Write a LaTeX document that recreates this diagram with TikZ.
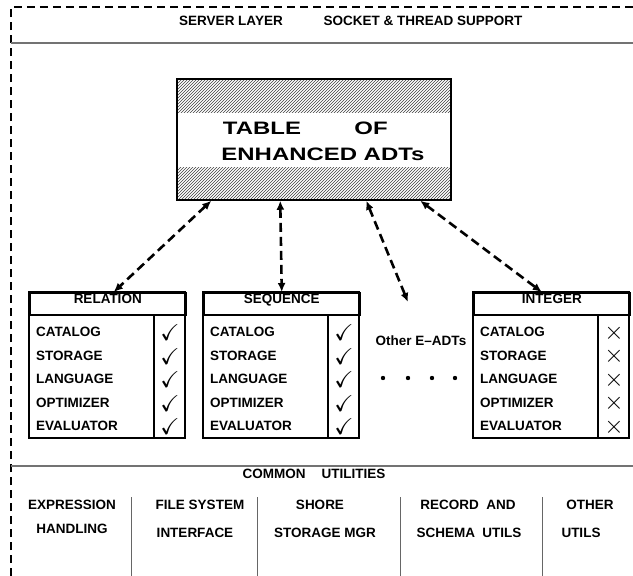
\documentclass[tikz,border=0pt]{standalone}
\usepackage{fontspec}
\setmainfont{Liberation Sans}
\usepackage{amssymb}
\usepackage{graphicx}
\usetikzlibrary{arrows.meta,patterns}

\tikzset{
  txt/.style={font=\fontsize{13.5}{16}\selectfont\bfseries, inner sep=0pt},
  bigtxt/.style={font=\fontsize{18}{20}\selectfont\bfseries, inner sep=0pt},
  rule/.style={draw=black!55, line width=1.2pt},
  boxline/.style={line width=1.5pt},
  adtlink/.style={{Latex[length=9pt,width=8pt]}-{Latex[length=9pt,width=8pt]},
    dash pattern=on 9pt off 5pt, line width=2.6pt},
}
\newcommand{\yes}{\fontsize{23}{23}\selectfont$\checkmark$}
\newcommand{\nope}{\fontsize{27}{27}\selectfont$\times$}

\begin{document}
\begin{tikzpicture}[x=1pt,y=-1pt]
  \useasboundingbox (0,0) rectangle (633,576);
  % frame (only top and left side show)
  \draw[dash pattern=on 8pt off 5pt, line width=1.5pt] (11,576) -- (11,7) -- (633,7);
  \node[txt] (srv) at (231,21) {SERVER LAYER};
  \node[txt] (sock) at (423,21) {SOCKET \& THREAD SUPPORT};
  \draw[rule] (11,43) -- (633,43);

  % the table in the middle
  \node[draw, boxline, minimum width=274pt, minimum height=121pt, inner sep=0pt,
    path picture={
      \fill[pattern=north east lines, pattern color=black!75] (path picture bounding box.north west)
        rectangle ([yshift=-33pt]path picture bounding box.north east);
      \fill[pattern=north east lines, pattern color=black!75] ([yshift=33pt]path picture bounding box.south west)
        rectangle (path picture bounding box.south east);
    }] (tab) at (314,139.5) {};
  \node[bigtxt] (tbl) at (262,128.5) {\scalebox{1.33}[1]{TABLE}};
  \node[bigtxt] (of) at (371,128.5) {\scalebox{1.33}[1]{OF}};
  \node[bigtxt] (enh) at (323,154.5) {\scalebox{1.33}[1]{ENHANCED ADTs}};

  % the E-ADT boxes
  \foreach \bx/\bname/\btitle/\bmark in {29/rel/RELATION/\yes, 203/seq/SEQUENCE/\yes, 473/int/INTEGER/\nope}{
    \draw[boxline] (\bx,292) rectangle (\bx+156,438);
    \node[txt, draw, boxline, text depth=10pt, minimum width=156pt, minimum height=22pt,
      anchor=north west] (\bname) at (\bx,292) {\btitle};
    \draw[boxline] (\bx+125,314) -- (\bx+125,438);
    \foreach \lbl [count=\r] in {CATALOG,STORAGE,LANGUAGE,OPTIMIZER,EVALUATOR}{
      \node[txt, anchor=west] (\bname-\r) at (\bx+7,308.5+23.5*\r) {\lbl};
      \node[inner sep=0pt] (\bname-m\r) at (\bx+141,309.5+23.5*\r) {\bmark};
    }
  }

  \node[txt] (oth) at (421,341) {Other E--ADTs};
  \coordinate (othtip) at (408,302);
  \foreach \dx in {383,408,432,455}
    \fill (\dx,378) circle (2.2pt);

  % links to the table
  \draw[adtlink] ([xshift=35pt]tab.south west) -- ([xshift=6pt]rel.north);
  \draw[adtlink] ([xshift=104pt]tab.south west) -- (seq.north);
  \draw[adtlink] ([xshift=190pt]tab.south west) -- (othtip);
  \draw[adtlink] ([xshift=244pt]tab.south west) -- ([xshift=-10pt]int.north);

  % common utilities
  \draw[rule] (11,466) -- (633,466);
  \node[txt] (cu) at (314,474) {COMMON\hspace{1.2em}UTILITIES};
  \foreach \dx in {131,257,400,542}
    \draw[draw=black!60, line width=1pt] (\dx,497) -- (\dx,576);
  \foreach \ux/\uy/\uname/\utext in {72/505/ex1/EXPRESSION, 72/529/ex2/HANDLING,
      200/505/fs1/FILE SYSTEM, 195/533/fs2/INTERFACE,
      320/505/sh1/SHORE, 325/533/sh2/STORAGE MGR,
      468/505/rec1/RECORD\ \ AND, 469/533/rec2/SCHEMA\ \ UTILS,
      590/505/ot1/OTHER, 581/533/ot2/UTILS}
    \node[txt] (\uname) at (\ux,\uy) {\utext};
\end{tikzpicture}
\end{document}
